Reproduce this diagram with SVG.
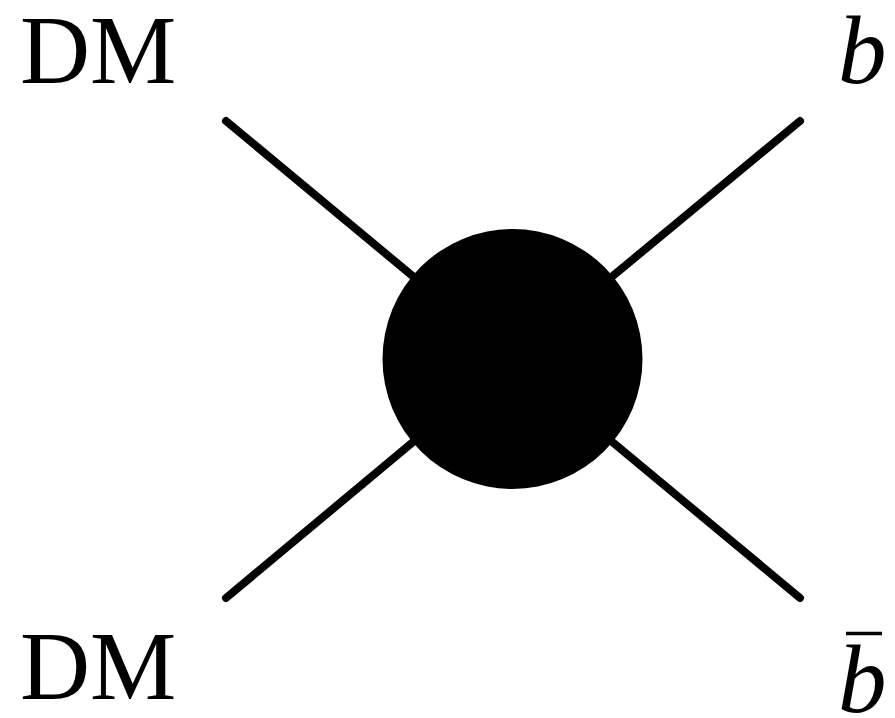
<svg xmlns="http://www.w3.org/2000/svg" width="895" height="718" viewBox="0 0 895 718">
<style>
.leg{stroke:#000;stroke-width:8;stroke-linecap:round;fill:none}
.lbl{font-family:"Liberation Serif","Times New Roman",serif;font-size:97px;fill:#000}
.it{font-style:italic}
</style>
<rect width="895" height="718" fill="#fff"/>
<g id="connectors">
<line class="leg" x1="226" y1="121" x2="512.5" y2="359"/>
<line class="leg" x1="800" y1="121" x2="512.5" y2="359"/>
<line class="leg" x1="226" y1="598" x2="512.5" y2="359"/>
<line class="leg" x1="800" y1="598" x2="512.5" y2="359"/>
</g>
<g id="vertex"><circle cx="512.5" cy="359" r="130" fill="#000"/></g>
<g id="dm-in"><text class="lbl" x="20" y="83">DM</text></g>
<g id="b-out"><text class="lbl it" x="838" y="83">b</text></g>
<g id="dm-in2"><text class="lbl" x="20" y="699">DM</text></g>
<g id="bbar-out"><text class="lbl it" x="838" y="712">b</text><line x1="846" y1="633.5" x2="882" y2="633.5" stroke="#000" stroke-width="3.5"/></g>
</svg>
